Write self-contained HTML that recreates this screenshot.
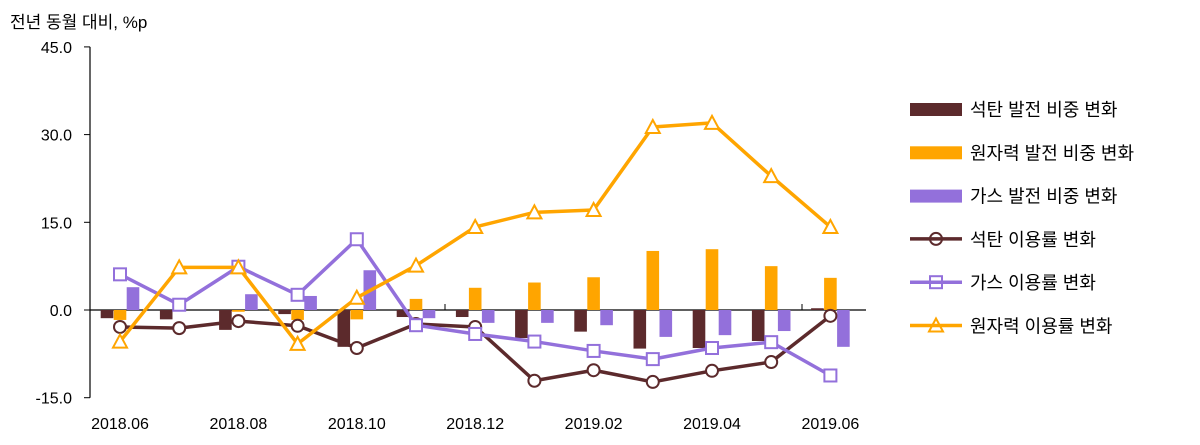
<!DOCTYPE html>
<html><head><meta charset="utf-8"><style>
body{margin:0;background:#fff;font-family:"Liberation Sans","Noto Sans CJK KR",sans-serif}
svg text{font-family:"Liberation Sans","Noto Sans CJK KR",sans-serif;fill:#000}
</style></head><body>
<svg id="chart" width="1200" height="440" xmlns="http://www.w3.org/2000/svg">
<text x="10" y="28" font-size="17">전년 동월 대비, %p</text>
<g id="axes"></g><g id="bars"></g><g id="lines"></g><g id="legend"></g>
</svg>
<script>
const months=["2018.06","2018.07","2018.08","2018.09","2018.10","2018.11","2018.12","2019.01","2019.02","2019.03","2019.04","2019.05","2019.06"];
const xLabels=["2018.06","2018.08","2018.10","2018.12","2019.02","2019.04","2019.06"];
const yTicks=[45,30,15,0,-15];
const coalShare=[-1.4,-1.6,-3.4,-0.7,-6.3,-1.2,-1.2,-4.8,-3.7,-6.6,-6.5,-5.3,0.3];
const nuclearShare=[-1.7,0,-0.3,-1.7,-1.6,1.9,3.8,4.7,5.6,10.1,10.4,7.5,5.5];
const gasShare=[3.9,0,2.7,2.4,6.8,-1.4,-2.2,-2.2,-2.6,-4.6,-4.3,-3.6,-6.3];
const coalUtil=[-2.9,-3.1,-1.9,-2.7,-6.5,-2.4,-2.9,-12.1,-10.3,-12.3,-10.4,-8.9,-1.0];
const gasUtil=[6.1,0.9,7.4,2.6,12.1,-2.6,-4.1,-5.4,-7.0,-8.4,-6.5,-5.5,-11.2];
const nuclearUtil=[-5.4,7.3,7.3,-5.8,2.1,7.6,14.2,16.7,17.1,31.3,32.0,22.9,14.2];
const NS="http://www.w3.org/2000/svg";
const y=v=>310-(v/15)*87.7;
const x=i=>120+59.2*i;
function mk(tag,attrs,parent){const e=document.createElementNS(NS,tag);for(const k in attrs)e.setAttribute(k,attrs[k]);document.getElementById(parent).appendChild(e);return e;}
// axes
let a=mk('line',{x1:90,y1:y(45),x2:90,y2:y(-15),stroke:'#000','stroke-width':1.2},'axes');


yTicks.forEach(t=>{
 let l=mk('line',{x1:84,y1:y(t),x2:90,y2:y(t),stroke:'#000'},'axes');
 
 
 let tx=mk('text',{x:72,y:y(t)+6,'font-size':16,'text-anchor':'end'},'axes');tx.textContent=t.toFixed(1);
 
 
});
let xa=mk('line',{x1:90,y1:y(0),x2:866,y2:y(0),stroke:'#000','stroke-width':1.2},'axes');


[445,802].forEach(px=>{let l=mk('line',{x1:px,y1:y(0)-6,x2:px,y2:y(0),stroke:'#000'},'axes');
 
 });
xLabels.forEach(lb=>{const i=months.indexOf(lb);
 let tx=mk('text',{x:x(i),y:429,'font-size':16,'text-anchor':'middle'},'axes');tx.textContent=lb;
 
 });
// bars
const barSeries=[[coalShare,'#5c2a2c',-13,'bar-coal-share'],[nuclearShare,'#ffa500',0,'bar-nuclear-share'],[gasShare,'#9370db',13,'bar-gas-share']];
barSeries.forEach(([vals,col,off,name])=>{vals.forEach((v,i)=>{
 const y0=Math.min(y(0),y(v)),h=Math.abs(y(v)-y(0));
 let r=mk('rect',{x:x(i)+off-6.3,y:y0,width:12.6,height:h,fill:col},'bars');
 
 
});});
// lines
function marker(kind,cx,cy,col){
 if(kind==='circle')return mk('circle',{cx:cx,cy:cy,r:6,fill:'#fff',stroke:col,'stroke-width':2},'lines');
 if(kind==='square')return mk('rect',{x:cx-6,y:cy-6,width:12,height:12,fill:'#fff',stroke:col,'stroke-width':2},'lines');
 return mk('polygon',{points:`${cx},${cy-7} ${cx-7},${cy+6} ${cx+7},${cy+6}`,fill:'#fff',stroke:col,'stroke-width':2},'lines');
}
const lineSeries=[[coalUtil,'#5c2a2c','circle','line-coal-util'],[gasUtil,'#9370db','square','line-gas-util'],[nuclearUtil,'#ffa500','triangle','line-nuclear-util']];
lineSeries.forEach(([vals,col,kind,name])=>{
 let p=mk('polyline',{points:vals.map((v,i)=>x(i)+','+y(v)).join(' '),fill:'none',stroke:col,'stroke-width':3.5,'stroke-linejoin':'round'},'lines');
 
 
 vals.forEach((v,i)=>{let m=marker(kind,x(i),y(v),col);
  
  });
});
// legend
const legend=[['석탄 발전 비중 변화','#5c2a2c','bar'],['원자력 발전 비중 변화','#ffa500','bar'],['가스 발전 비중 변화','#9370db','bar'],['석탄 이용률 변화','#5c2a2c','circle'],['가스 이용률 변화','#9370db','square'],['원자력 이용률 변화','#ffa500','triangle']];
legend.forEach(([lb,col,kind],k)=>{
 const cy=109+43.3*k;
 if(kind==='bar'){let r=mk('rect',{x:910,y:cy-6,width:52,height:13,fill:col},'legend');
  
  }
 else{let l=mk('line',{x1:910,y1:cy,x2:962,y2:cy,stroke:col,'stroke-width':3.5},'legend');
  
  
  let m=marker(kind,936,cy,col);
  
  }
 let t=mk('text',{x:970,y:cy+7,'font-size':18},'legend');t.textContent=lb;
 
 
});
</script>
</body></html>
